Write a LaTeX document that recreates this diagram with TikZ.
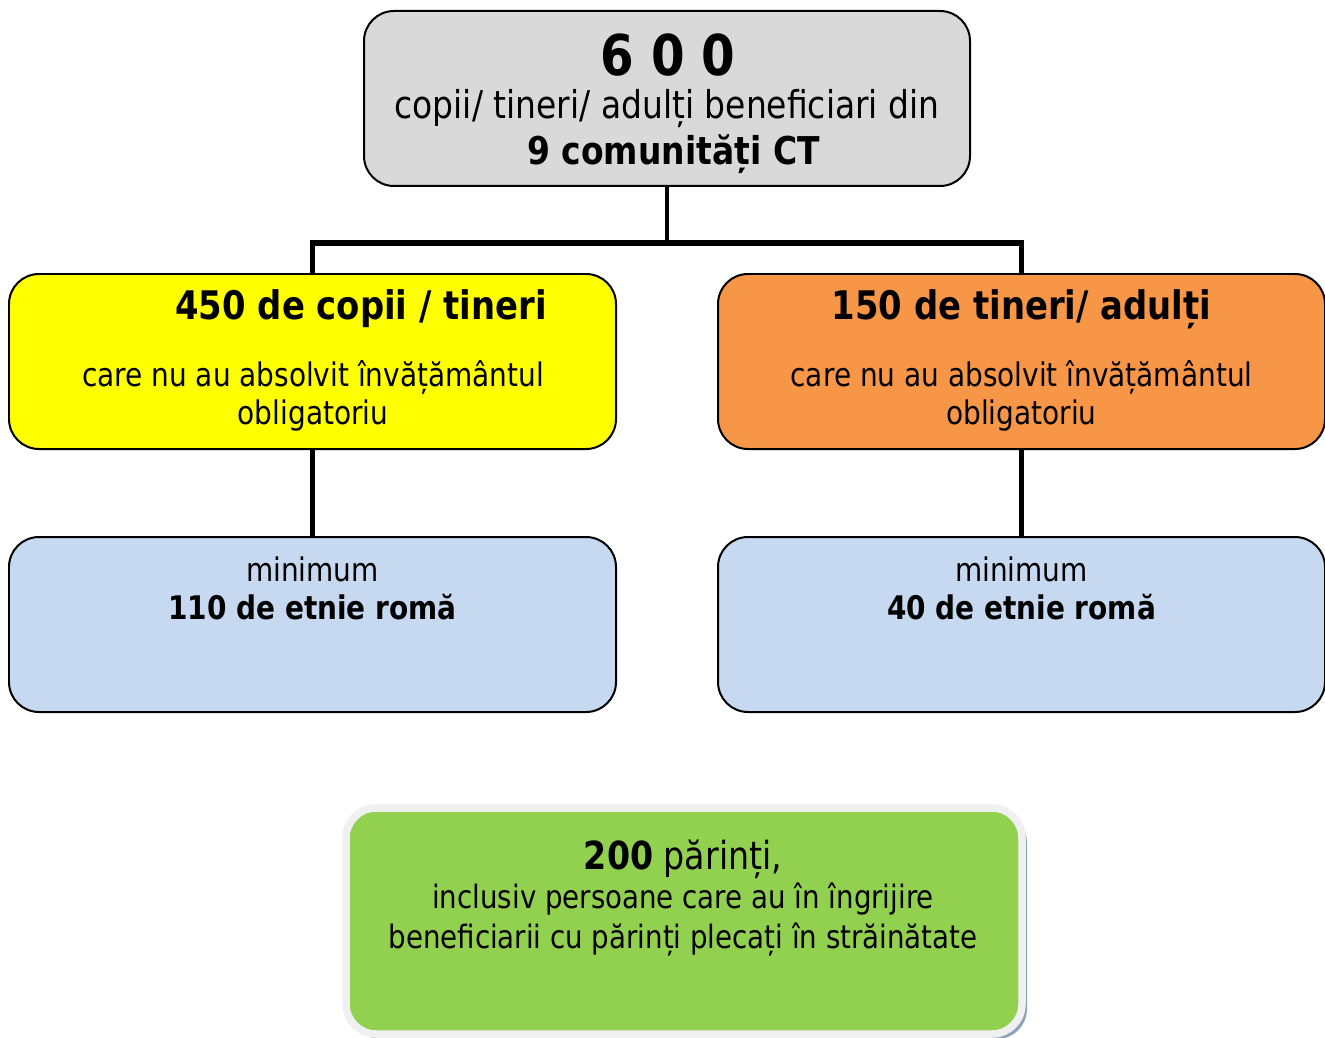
\documentclass[tikz,border=0pt]{standalone}
\usepackage{fontspec}
\setmainfont{DejaVu Sans}[FakeStretch=0.86]
\usetikzlibrary{positioning,shadows}
\definecolor{boxgray}{HTML}{D9D9D9}
\definecolor{boxyellow}{HTML}{FFFF00}
\definecolor{boxorange}{HTML}{F79646}
\definecolor{boxblue}{HTML}{C6D9F1}
\definecolor{boxgreen}{HTML}{92D050}
\definecolor{rimgray}{HTML}{F0F0F0}
\definecolor{shadowblue}{HTML}{8FA3B8}
\def\w{12.14cm}
\def\h{3.5cm}
\def\panel#1#2#3#4{\node[panel, fill=#4] (#1) at (#2, #3) {};}
\def\headfont{\fontsize{22.4}{25}\selectfont}
\def\bodyfont{\fontsize{18.5}{21.5}\selectfont}

\begin{document}
\begin{tikzpicture}[panel/.style={draw=black, line width=0.04cm, rounded corners=0.6cm,
        minimum width=\w, minimum height=\h, inner sep=0pt},
    link/.style={line width=0.1cm},
    txt/.style={align=center, inner sep=0pt}]
    \useasboundingbox (0,0) rectangle (26.5,-20.76);
    % top
    \node[panel, fill=boxgray, minimum width=12.12cm] (total) at (13.34,-1.97) {};
    \node[txt, font=\fontsize{32}{34}\selectfont\bfseries] (totalnum) at (13.36,-1.10) {6 0 0};
    \node[txt, font=\fontsize{21.8}{25}\selectfont] (totaltxt) at (13.34,-2.18) {copii/ tineri/ adulți beneficiari din};
    \node[txt, font=\fontsize{21.8}{25}\selectfont\bfseries] (totalcom) at (13.47,-3.08) {9 comunități CT};
    % middle row
    \panel{kids}{6.25}{-7.23}{boxyellow}
    \panel{adults}{20.43}{-7.23}{boxorange}
    \node[txt, font=\headfont\bfseries] (kidshead) at (7.22,-6.18) {450 de copii / tineri};
    \node[txt, font=\bodyfont] (kidstxt) at (6.26,-7.91) {care nu au absolvit învățământul\\obligatoriu};
    \node[txt, font=\headfont\bfseries] (adultshead) at (20.43,-6.18) {150 de tineri/ adulți};
    \node[txt, font=\bodyfont] (adultstxt) at (20.43,-7.91) {care nu au absolvit învățământul\\obligatoriu};
    % bottom row
    \panel{kidsroma}{6.25}{-12.49}{boxblue}
    \panel{adultsroma}{20.43}{-12.49}{boxblue}
    \node[txt, font=\bodyfont] (kidsromatxt) at (6.25,-11.76) {minimum\\\textbf{110 de etnie romă}};
    \node[txt, font=\bodyfont] (adultsromatxt) at (20.43,-11.76) {minimum\\\textbf{40 de etnie romă}};
    % parents
    \node[panel, fill=boxgreen, draw=rimgray, line width=0.15cm, minimum width=13.52cm, minimum height=4.52cm,
        drop shadow={shadow xshift=0.1cm, shadow yshift=-0.1cm, fill=shadowblue, opacity=1}] (parents) at (13.68,-18.42) {};
    \node[txt, font=\fontsize{18.3}{22.7}\selectfont] (parentstxt) at (13.66,-17.96)
        {{\fontsize{22}{22.7}\selectfont\textbf{200} părinți,}\\inclusiv persoane care au în îngrijire\\beneficiarii cu părinți plecați în străinătate};
    % links
    \coordinate (split) at (13.34,-4.86);
    \draw[line width=0.08cm] (total.south) -- (split);
    \draw[link] (kids.north) |- (split) -| (adults.north);
    \draw[link] (kids.south) -- (kidsroma.north);
    \draw[link] (adults.south) -- (adultsroma.north);
\end{tikzpicture}
\end{document}
